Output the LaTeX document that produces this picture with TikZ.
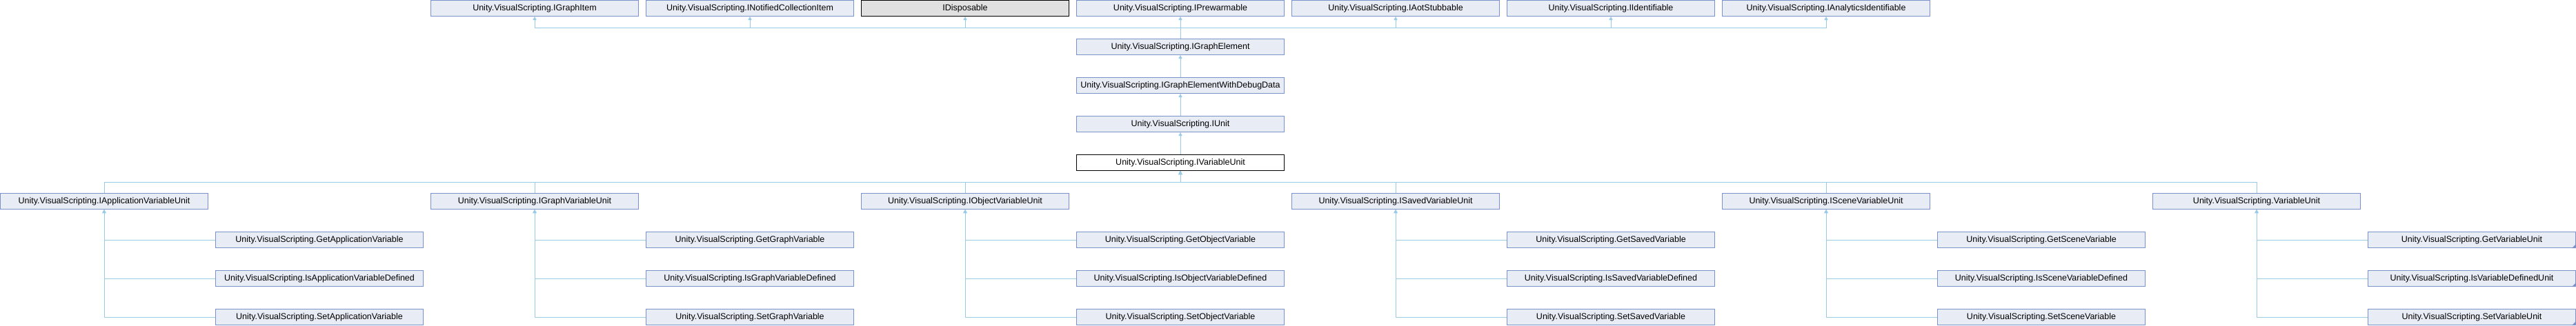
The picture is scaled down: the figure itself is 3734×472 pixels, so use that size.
\documentclass[tikz,border=0pt]{standalone}
\usepackage{fontspec}
\setmainfont{Liberation Sans}
\usetikzlibrary{arrows.meta}
\definecolor{boxfill}{RGB}{232,236,244}
\definecolor{boxline}{RGB}{123,146,200}
\definecolor{linkcol}{RGB}{150,202,232}
\definecolor{extfill}{RGB}{224,224,224}
\begin{document}
\begin{tikzpicture}[x=1pt, y=-1pt,
    every node/.style={anchor=north west, minimum width=301pt, minimum height=23pt,
      inner sep=0pt, line width=1pt, font=\fontsize{12.5}{15}\selectfont},
    cls/.style={draw=boxline, fill=boxfill},
    ext/.style={draw=black, fill=extfill},
    cur/.style={draw=black, fill=white},
    inh/.style={draw=linkcol, line width=1pt, -{Triangle[width=5pt,length=5pt]}}]
    \useasboundingbox (0,0) rectangle (3734,472);
    % base interfaces
    \node[cls] (gi) at (624,0)  {Unity.VisualScripting.IGraphItem};
    \node[cls] (nc) at (936,0)  {Unity.VisualScripting.INotifiedCollectionItem};
    \node[ext] (di) at (1248,0) {IDisposable};
    \node[cls] (pw) at (1560,0) {Unity.VisualScripting.IPrewarmable};
    \node[cls] (as) at (1872,0) {Unity.VisualScripting.IAotStubbable};
    \node[cls] (id) at (2184,0) {Unity.VisualScripting.IIdentifiable};
    \node[cls] (ai) at (2496,0) {Unity.VisualScripting.IAnalyticsIdentifiable};
    % main chain
    \node[cls] (ge) at (1560,56)  {Unity.VisualScripting.IGraphElement};
    \node[cls] (gd) at (1560,112) {Unity.VisualScripting.IGraphElementWithDebugData};
    \node[cls] (iu) at (1560,168) {Unity.VisualScripting.IUnit};
    \node[cur] (iv) at (1560,224) {Unity.VisualScripting.IVariableUnit};
    % variable unit kinds
    \node[cls] (av) at (0,280)    {Unity.VisualScripting.IApplicationVariableUnit};
    \node[cls] (gv) at (624,280)  {Unity.VisualScripting.IGraphVariableUnit};
    \node[cls] (ov) at (1248,280) {Unity.VisualScripting.IObjectVariableUnit};
    \node[cls] (sv) at (1872,280) {Unity.VisualScripting.ISavedVariableUnit};
    \node[cls] (cv) at (2496,280) {Unity.VisualScripting.ISceneVariableUnit};
    \node[cls] (vu) at (3120,280) {Unity.VisualScripting.VariableUnit};
    % leaves
    \node[cls] (av1) at (312,336) {Unity.VisualScripting.GetApplicationVariable};
    \node[cls] (av2) at (312,392) {Unity.VisualScripting.IsApplicationVariableDefined};
    \node[cls] (av3) at (312,448) {Unity.VisualScripting.SetApplicationVariable};
    \node[cls] (gv1) at (936,336) {Unity.VisualScripting.GetGraphVariable};
    \node[cls] (gv2) at (936,392) {Unity.VisualScripting.IsGraphVariableDefined};
    \node[cls] (gv3) at (936,448) {Unity.VisualScripting.SetGraphVariable};
    \node[cls] (ov1) at (1560,336) {Unity.VisualScripting.GetObjectVariable};
    \node[cls] (ov2) at (1560,392) {Unity.VisualScripting.IsObjectVariableDefined};
    \node[cls] (ov3) at (1560,448) {Unity.VisualScripting.SetObjectVariable};
    \node[cls] (sv1) at (2184,336) {Unity.VisualScripting.GetSavedVariable};
    \node[cls] (sv2) at (2184,392) {Unity.VisualScripting.IsSavedVariableDefined};
    \node[cls] (sv3) at (2184,448) {Unity.VisualScripting.SetSavedVariable};
    \node[cls] (cv1) at (2808,336) {Unity.VisualScripting.GetSceneVariable};
    \node[cls] (cv2) at (2808,392) {Unity.VisualScripting.IsSceneVariableDefined};
    \node[cls] (cv3) at (2808,448) {Unity.VisualScripting.SetSceneVariable};
    \node[cls] (vu1) at (3432,336) {Unity.VisualScripting.GetVariableUnit};
    \node[cls] (vu2) at (3432,392) {Unity.VisualScripting.IsVariableDefinedUnit};
    \node[cls] (vu3) at (3432,448) {Unity.VisualScripting.SetVariableUnit};
    % corner marks
    \fill[boxline] (vu1.south east) -- ++(-6,0) -- ++(6,-6) -- cycle;
    \fill[boxline] (vu2.south east) -- ++(-6,0) -- ++(6,-6) -- cycle;
    \fill[boxline] (vu3.south east) -- ++(-6,0) -- ++(6,-6) -- cycle;
    % buses
    \coordinate (topbus) at (0,40);
    \coordinate (midbus) at (0,264);
    \draw[inh] (ge.north) |- (topbus -| gi.south) -- (gi.south);
    \draw[inh] (ge.north) |- (topbus -| nc.south) -- (nc.south);
    \draw[inh] (ge.north) |- (topbus -| di.south) -- (di.south);
    \draw[inh] (ge.north) -- (pw.south);
    \draw[inh] (ge.north) |- (topbus -| as.south) -- (as.south);
    \draw[inh] (ge.north) |- (topbus -| id.south) -- (id.south);
    \draw[inh] (ge.north) |- (topbus -| ai.south) -- (ai.south);
    \draw[inh] (gd.north) -- (ge.south);
    \draw[inh] (iu.north) -- (gd.south);
    \draw[inh] (iv.north) -- (iu.south);
    \draw[inh] (av.north) |- (midbus -| iv.south) -- (iv.south);
    \draw[inh] (gv.north) |- (midbus -| iv.south) -- (iv.south);
    \draw[inh] (ov.north) |- (midbus -| iv.south) -- (iv.south);
    \draw[inh] (sv.north) |- (midbus -| iv.south) -- (iv.south);
    \draw[inh] (cv.north) |- (midbus -| iv.south) -- (iv.south);
    \draw[inh] (vu.north) |- (midbus -| iv.south) -- (iv.south);
    \draw[inh] (av3.west) -| (av.south);
    \draw[inh] (av2.west) -| (av.south);
    \draw[inh] (av1.west) -| (av.south);
    \draw[inh] (gv3.west) -| (gv.south);
    \draw[inh] (gv2.west) -| (gv.south);
    \draw[inh] (gv1.west) -| (gv.south);
    \draw[inh] (ov3.west) -| (ov.south);
    \draw[inh] (ov2.west) -| (ov.south);
    \draw[inh] (ov1.west) -| (ov.south);
    \draw[inh] (sv3.west) -| (sv.south);
    \draw[inh] (sv2.west) -| (sv.south);
    \draw[inh] (sv1.west) -| (sv.south);
    \draw[inh] (cv3.west) -| (cv.south);
    \draw[inh] (cv2.west) -| (cv.south);
    \draw[inh] (cv1.west) -| (cv.south);
    \draw[inh] (vu3.west) -| (vu.south);
    \draw[inh] (vu2.west) -| (vu.south);
    \draw[inh] (vu1.west) -| (vu.south);
  \end{tikzpicture}
\end{document}
